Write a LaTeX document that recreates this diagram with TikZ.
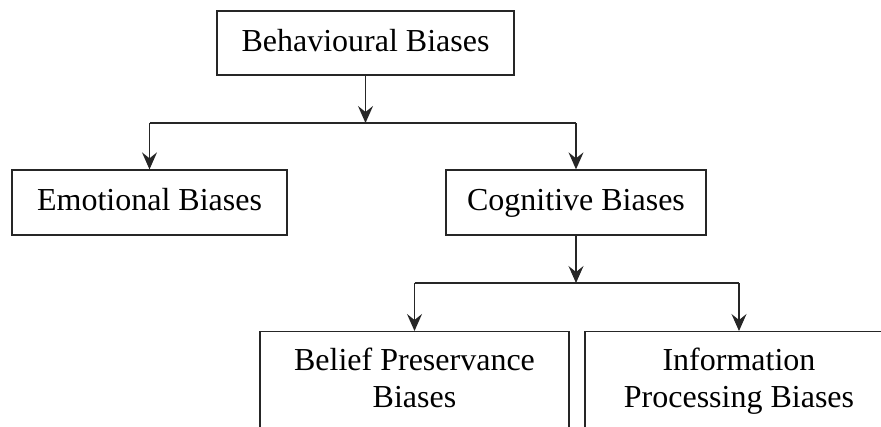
\documentclass[tikz,border=0pt]{standalone}
\usepackage{fontspec}
\setmainfont{Liberation Serif}
\usetikzlibrary{arrows.meta}
\begin{document}
\begin{tikzpicture}[x=1pt,y=-1pt,
  box/.style={draw=black!85, line width=1.3pt, inner sep=0pt, align=center,
    font=\fontsize{32}{37}\selectfont, text height=22pt, text depth=6pt},
  lowbox/.style={box, anchor=north, text height=76pt, text depth=100pt},
  conn/.style={draw=black!85, line width=1.3pt},
  arr/.style={conn, -{Stealth[length=17pt,width=15pt,inset=6pt]}}]
\useasboundingbox (0,0) rectangle (881,426);
\clip (0,0) rectangle (881,426);
\node[box, minimum width=297pt, minimum height=64pt] (beh) at (365.5,43) {Behavioural Biases};
\node[box, minimum width=275pt, minimum height=65pt] (emo) at (149.5,202.5) {Emotional Biases};
\node[box, minimum width=260pt, minimum height=65pt] (cog) at (576,202.5) {Cognitive Biases};
\node[lowbox, minimum width=309pt] (bel) at (414.5,331) {Belief Preservance\\Biases};
\node[lowbox, minimum width=308pt] (inf) at (739,331) {Information\\Processing Biases};
\coordinate (j1) at (beh.south |- 0,123);
\coordinate (j2) at (cog.south |- 0,283);
\draw[arr] (beh.south) -- (j1);
\draw[conn] (emo.north |- j1) -- (cog.north |- j1);
\draw[arr] (emo.north |- j1) -- (emo.north);
\draw[arr] (cog.north |- j1) -- (cog.north);
\draw[arr] (cog.south) -- (j2);
\draw[conn] (bel.north |- j2) -- (inf.north |- j2);
\draw[arr] (bel.north |- j2) -- (bel.north);
\draw[arr] (inf.north |- j2) -- (inf.north);
\end{tikzpicture}
\end{document}
